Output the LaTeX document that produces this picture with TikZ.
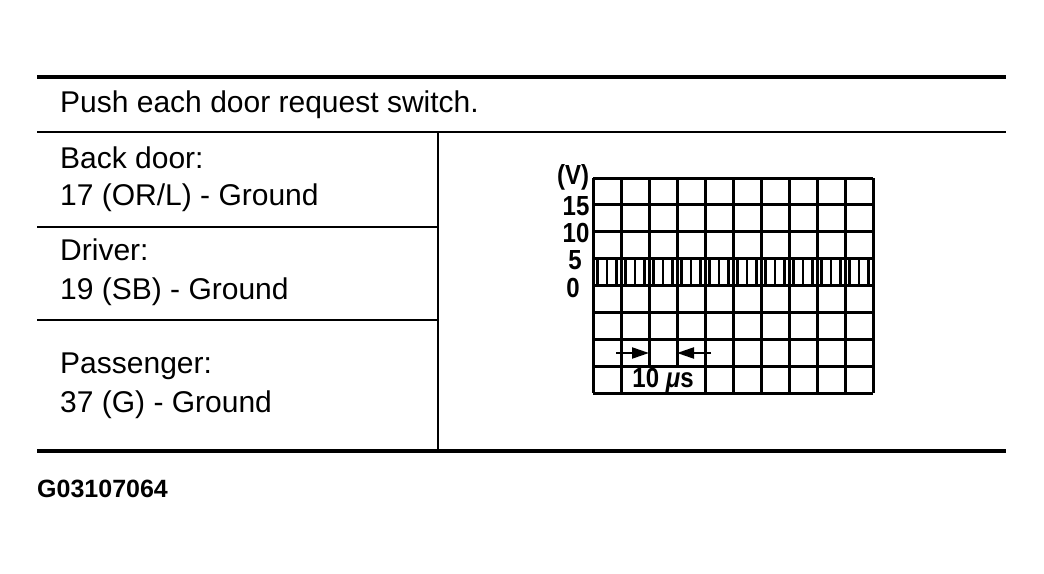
\documentclass[tikz,border=0pt]{standalone}
\usepackage{fontspec}
\setmainfont{Liberation Sans}
\usetikzlibrary{arrows.meta}
\newcommand{\tallbf}[1]{\scalebox{1}[1.15]{#1}}
\tikzset{
  tbltext/.style={anchor=base west, inner sep=0pt, font=\fontsize{30}{36}\selectfont},
  scopelbl/.style={anchor=base, inner sep=0pt, font=\bfseries\fontsize{24}{28}\selectfont},
  thickrule/.style={line width=4.5pt},
  thinrule/.style={line width=1.8pt},
  gridline/.style={line width=3pt},
  wave/.style={line width=2.6pt, line join=miter},
  dimarrow/.style={line width=2.2pt, -{Triangle[length=17pt,width=11pt]}}
}
\begin{document}
\begin{tikzpicture}[x=1pt,y=-1pt]
\useasboundingbox (0,0) rectangle (1044,573);
% table rules
\draw[thickrule] (37,77) -- (1006,77);
\draw[thinrule] (37,132) -- (1006,132);
\draw[thinrule] (438,132) -- (438,450);
\draw[thinrule] (37,227) -- (438,227);
\draw[thinrule] (37,320) -- (438,320);
\draw[thickrule] (37,451) -- (1006,451);
% table texts
\node[tbltext] (hdr) at (60,112) {Push each door request switch.};
\node[tbltext] (bd1) at (60,168) {Back door:};
\node[tbltext] (bd2) at (60,205) {17 (OR/L) - Ground};
\node[tbltext] (dr1) at (60,260) {Driver:};
\node[tbltext] (dr2) at (60,299) {19 (SB) - Ground};
\node[tbltext] (ps1) at (60,373) {Passenger:};
\node[tbltext] (ps2) at (60,412) {37 (G) - Ground};
\node[anchor=base west, inner sep=0pt, font=\bfseries\fontsize{25}{30}\selectfont] (code) at (37,497) {G03107064};
% scope grid
\foreach \i in {0,...,10} {
  \draw[gridline] ({593+28*\i},178) -- ({593+28*\i},393);
}
\foreach \j in {0,...,8} {
  \draw[gridline] (593,{178+26.875*\j}) -- (873,{178+26.875*\j});
}
% waveform
\begin{scope}
\clip (593,250) rectangle (873,295);
\draw[wave] (593,259) -- ++(4.67,0)
  \foreach \k in {1,...,15} { -- ++(0,27) -- ++(9.33,0) -- ++(0,-27) -- ++(9.33,0) };
\end{scope}
% label box
\fill[white] (622.5,367.5) rectangle (703.5,391.5);
\node[scopelbl] (tlbl) at (663,387) {\tallbf{10 \textit{μ}s}};
% dimension arrows
\coordinate (a1s) at (616,353);
\coordinate (a1e) at (649,353);
\coordinate (a2s) at (711,353);
\coordinate (a2e) at (677,353);
\draw[dimarrow] (a1s) -- (a1e);
\draw[dimarrow] (a2s) -- (a2e);
% axis labels
\node[scopelbl] (vunit) at (573,184) {\tallbf{(V)}};
\node[scopelbl] (v15) at (576,215) {\tallbf{15}};
\node[scopelbl] (v10) at (576,242) {\tallbf{10}};
\node[scopelbl] (v5) at (575,269) {\tallbf{5}};
\node[scopelbl] (v0) at (573,297) {\tallbf{0}};
\end{tikzpicture}
\end{document}
